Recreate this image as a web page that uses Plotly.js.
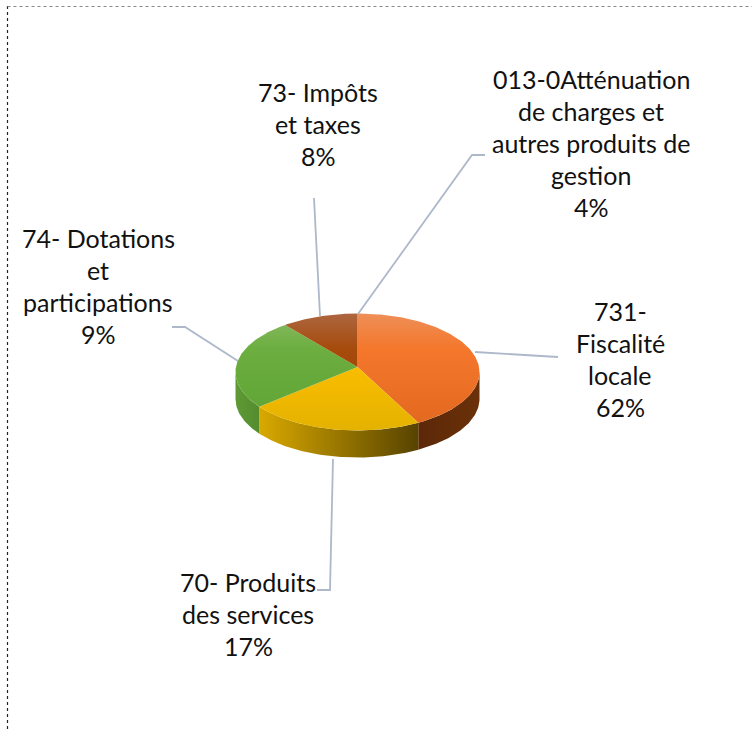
<!DOCTYPE html>
<html>
<head>
<meta charset="utf-8">
<script src="https://cdn.plot.ly/plotly-3.0.1.min.js"></script>
<style>html,body{margin:0;padding:0;background:#fff}#chart{width:752px;height:729px}</style>
</head>
<body>
<div id="chart"></div>
<script>
// Slices as they are drawn in the picture (percent of the disc)
const sliceNames = ['731- Fiscalité locale', '70- Produits des services', '74- Dotations et participations', '73- Impôts et taxes'];
const sliceShares = [41.7, 23.2, 25.0, 10.1];
const topColors = [
  ['#ee8f58', '#f4772c', '#e2681f'],
  ['#fdca3e', '#ffc000', '#e4b200'],
  ['#8abb66', '#6cae3f', '#5ea335'],
  ['#ad6640', '#a64b0c', '#9c4200']
];
const wallColors = [
  ['#5c2808', '#6a3109'],
  ['#d9a900', '#574300'],
  ['#5f9a35', '#548c2e'],
  ['#7a3500', '#7a3500']
];

// Data labels, line by line
const labelLines = [
  ['731-', 'Fiscalité', 'locale', '62%'],
  ['70- Produits', 'des services', '17%'],
  ['74- Dotations', 'et', 'participations', '9%'],
  ['73- Impôts', 'et taxes', '8%'],
  ['013-0Atténuation', 'de charges et', 'autres produits de', 'gestion', '4%']
];
const labelX = [620, 248, 98, 318, 591];
const labelY = [311, 582, 238, 92, 79];
const lineStep = 32.1;

// Leader lines
const leaderX = [[475, 558], [333, 330, 317], [238, 185, 172], [320, 314], [358, 472, 485]];
const leaderY = [[352, 357], [459, 590, 590], [361, 327, 327], [316, 198], [314, 155, 155]];

// Disc geometry on the pixel-like axes
const cx = 357.5, cy = 372, rx = 122, ry = 58.5, apexY = 367, depth = 27;
const topY = cy - ry, botY = cy + ry;

function arc(a0, a1, dy) {
  const xs = [], ys = [];
  const n = Math.max(2, Math.ceil(Math.abs(a1 - a0)));
  for (let i = 0; i <= n; i++) {
    const t = (a0 + (a1 - a0) * i / n) * Math.PI / 180;
    xs.push(cx + rx * Math.sin(t));
    ys.push(cy - ry * Math.cos(t) + dy);
  }
  return [xs, ys];
}

const traces = [];
let start = 0;
const ranges = sliceShares.map(v => { const r = [start, start + v * 3.6]; start = r[1]; return r; });

// Side walls (only the front half of the disc can be seen)
ranges.forEach((r, i) => {
  const a0 = Math.max(r[0], 90), a1 = Math.min(r[1], 270);
  if (a1 <= a0) return;
  const [tx, ty] = arc(a0, a1, 0);
  const [bx, by] = arc(a1, a0, depth);
  const c = wallColors[i];
  traces.push({
    type: 'scatter', mode: 'lines', x: tx.concat(bx), y: ty.concat(by),
    fill: 'toself', line: {width: 0}, hoverinfo: 'skip', showlegend: false,
    fillgradient: {type: 'horizontal', colorscale: [[0, c[0]], [1, c[1]]]}
  });
});

// Top faces
ranges.forEach((r, i) => {
  const [ax, ay] = arc(r[0], r[1], 0);
  const c = topColors[i];
  traces.push({
    type: 'scatter', mode: 'lines', name: sliceNames[i],
    x: [cx].concat(ax, [cx]), y: [apexY].concat(ay, [apexY]),
    fill: 'toself', line: {width: 0}, hoverinfo: 'name', showlegend: false,
    fillgradient: {type: 'vertical', start: topY, stop: botY,
      colorscale: [[0, c[0]], [0.3, c[1]], [1, c[2]]]}
  });
});

// Leader lines
leaderX.forEach((xs, i) => traces.push({
  type: 'scatter', mode: 'lines', x: xs, y: leaderY[i],
  line: {color: '#adb9ca', width: 1.8}, hoverinfo: 'skip', showlegend: false
}));

const annotations = [];
labelLines.forEach((lines, i) => lines.forEach((txt, k) => annotations.push({
  x: labelX[i], y: labelY[i] + k * lineStep, xref: 'x', yref: 'y',
  text: txt, showarrow: false, xanchor: 'center', yanchor: 'middle',
  font: {family: 'Lato, "Open Sans", sans-serif', size: 25, color: '#111111'}
})));

const layout = {
  width: 752, height: 729,
  margin: {l: 0, r: 0, t: 0, b: 0},
  paper_bgcolor: '#ffffff', plot_bgcolor: '#ffffff',
  xaxis: {range: [0, 752], visible: false, fixedrange: true},
  yaxis: {range: [729, 0], visible: false, fixedrange: true},
  annotations: annotations,
  shapes: [
    {type: 'line', xref: 'x', yref: 'y', x0: 7.5, x1: 7.5, y0: 6, y1: 729, line: {color: '#222222', width: 1.2, dash: 'dot'}},
    {type: 'line', xref: 'x', yref: 'y', x0: 7.5, x1: 752, y0: 6.5, y1: 6.5, line: {color: '#888888', width: 1.2, dash: 'dot'}}
  ]
};

Plotly.newPlot('chart', traces, layout, {displayModeBar: false, staticPlot: true});
</script>
</body>
</html>
